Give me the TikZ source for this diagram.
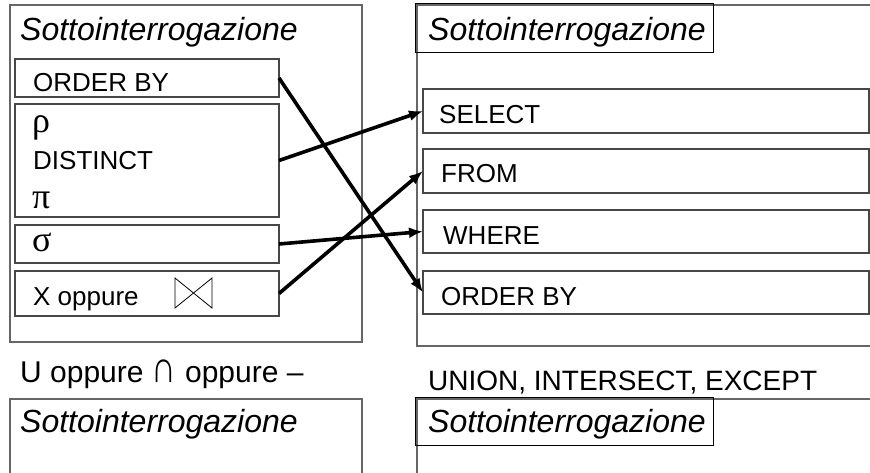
\documentclass[tikz,border=0pt]{standalone}
\usepackage{fontspec}
\usepackage{graphicx}
\setmainfont{Liberation Sans}
\newfontfamily\greekfont{Liberation Serif}
\usetikzlibrary{arrows.meta}

\begin{document}
\begin{tikzpicture}[x=1pt,y=-1pt,
  outerbox/.style={draw=black!60, line width=1.4pt},
  innerbox/.style={draw=black!72, line width=1.2pt, inner sep=0pt, outer sep=0pt, anchor=north west},
  titlebox/.style={draw=black, line width=0.9pt, inner sep=0pt, anchor=north west},
  lbl/.style={anchor=base west, inner sep=0pt, font=\fontsize{26}{30}\selectfont},
  ttl/.style={anchor=base west, inner sep=0pt, font=\fontsize{32}{36}\selectfont\itshape},
  opl/.style={anchor=base west, inner sep=0pt, font=\fontsize{30}{36}\selectfont},
  grk/.style={anchor=base west, inner sep=0pt, font=\fontsize{36}{40}\selectfont\greekfont},
  link/.style={line width=3.6pt, -{Latex[length=14pt,width=11pt]}}
]
\useasboundingbox (0,0) rectangle (870,472);
\clip (0,0) rectangle (870,472);

% ---- upper left: relational algebra subquery ----
\draw[outerbox] (10,5) rectangle (362,342);
\node[ttl] (ltitle) at (20,40) {Sottointerrogazione};

\node[innerbox, minimum width=264pt, minimum height=38pt] (lob)   at (15,59)  {};
\node[innerbox, minimum width=264pt, minimum height=113pt] (lproj) at (15,104) {};
\node[innerbox, minimum width=264pt, minimum height=38pt] (lsel)  at (15,225) {};
\node[innerbox, minimum width=264pt, minimum height=45pt] (ljoin) at (15,271) {};

\node[lbl] (tob)   at (33,91)  {ORDER BY};
\node[grk] (trho)  at (32,132) {ρ};
\node[lbl] (tdist) at (33,169) {DISTINCT};
\node[grk] (tpi)   at (32,208) {π};
\node[grk] (tsig)  at (32,251) {σ};
\node[lbl] (tjoin) at (33,305) {X oppure};
% join symbol
\draw[line width=0.8pt, line join=miter] (175,278) -- (175,308) -- (212,278) -- (212,308) -- cycle;

% ---- upper right: SQL subquery ----
\draw[outerbox] (417,5) rectangle (885,346);
\node[titlebox, minimum width=298pt, minimum height=49pt] (rtbox) at (415,3) {};
\node[ttl] (rtitle) at (428,40) {Sottointerrogazione};

\node[innerbox, minimum width=446pt, minimum height=44pt] (rselect) at (423,89)  {};
\node[innerbox, minimum width=446pt, minimum height=44pt] (rfrom)   at (423,149) {};
\node[innerbox, minimum width=446pt, minimum height=43pt] (rwhere)  at (423,210) {};
\node[innerbox, minimum width=446pt, minimum height=43pt] (rorder)  at (423,271) {};

\node[lbl] (tselect) at (439,123) {SELECT};
\node[lbl] (tfrom)   at (441,182) {FROM};
\node[lbl] (twhere)  at (443,244) {WHERE};
\node[lbl] (torder)  at (441,305) {ORDER BY};

% ---- correspondences ----
\draw[link] (lob.east)   -- (rorder.west);
\draw[link] (lproj.east) -- (rselect.west);
\draw[link] (lsel.east)  -- (rwhere.west);
\draw[link] (ljoin.east) -- (rfrom.west);

% ---- set operators ----
\node[opl] (setalg) at (20,382) {U oppure \scalebox{1.15}[1.5]{∩} oppure –};
\node[anchor=base west, inner sep=0pt, font=\fontsize{28}{34}\selectfont] (setsql) at (428,390) {UNION, INTERSECT, EXCEPT};

% ---- lower subqueries ----
\draw[outerbox] (10,490) -- (10,399) -- (362,399) -- (362,490);
\node[ttl] (lbtitle) at (20,432) {Sottointerrogazione};

\draw[outerbox] (417,490) -- (417,399) -- (885,399);
\node[titlebox, minimum width=298pt, minimum height=48pt] (rbbox) at (415,397) {};
\node[ttl] (rbtitle) at (428,432) {Sottointerrogazione};
\end{tikzpicture}
\end{document}
